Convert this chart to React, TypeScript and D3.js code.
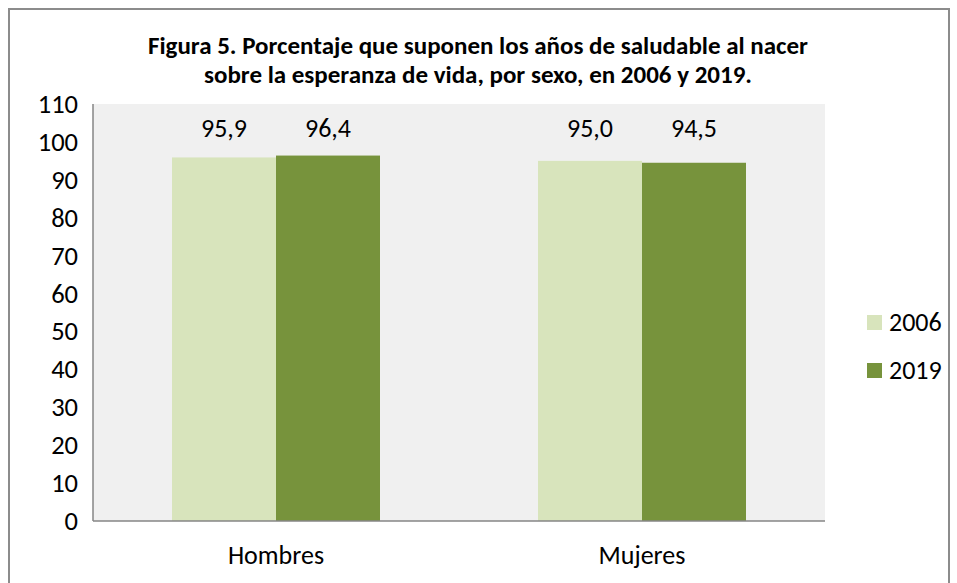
import React from "react";
import * as d3 from "d3";

const categories = ["Hombres", "Mujeres"];
const seriesNames = ["2006", "2019"];
const values2006 = [95.9, 95.0];
const values2019 = [96.4, 94.5];
const yTicks = [0, 10, 20, 30, 40, 50, 60, 70, 80, 90, 100, 110];
const titleLines = [
  "Figura 5. Porcentaje que suponen los años de saludable al nacer",
  "sobre la esperanza de vida, por sexo, en 2006 y 2019.",
];
const colors = ["#d8e4bc", "#77933c"];

const W = 957;
const H = 583;
const FONT = "Carlito, Calibri, Lato, sans-serif";

export default function App() {
  const plot = { left: 93, right: 825, top: 104, bottom: 521 };
  const x0 = d3.scaleBand<string>().domain(categories).range([plot.left, plot.right]).paddingInner(0).paddingOuter(0);
  const groupWidth = 208;
  const x1 = d3
    .scaleBand<string>()
    .domain(seriesNames)
    .range([0, groupWidth])
    .padding(0);
  const y = d3.scaleLinear().domain([0, 110]).range([plot.bottom, plot.top]);
  const series = [values2006, values2019];
  const fmt = (v: number) => v.toFixed(1).replace(".", ",");

  return (
    <svg
      width={W}
      height={H}
      style={{ position: "absolute", left: 0, top: 0, background: "#fff" }}
      fontFamily={FONT}
    >
      <rect x={9} y={9} width={940} height={600} fill="#fff" stroke="#8c8c8c" strokeWidth={2} />
      {titleLines.map((t, i) => (
        <text
          key={i}
          x={478}
          y={54 + i * 29}
          textAnchor="middle"
          fontWeight="bold"
          fontSize={25}
          fill="#000"
        >
          {t}
        </text>
      ))}
      <rect
        x={plot.left}
        y={plot.top}
        width={plot.right - plot.left}
        height={plot.bottom - plot.top}
        fill="#f0f0f0"
      />
      {yTicks.map((t) => (
        <text key={t} x={78} y={y(t) + 9} textAnchor="end" fontSize={26.5} fill="#000">
          {t}
        </text>
      ))}
      {categories.map((c, ci) => {
        const gx = (x0(c) as number) + (x0.bandwidth() - groupWidth) / 2;
        return (
          <g key={c}>
            {seriesNames.map((s, si) => {
              const v = series[si][ci];
              const bx = gx + (x1(s) as number);
              return (
                <g key={s}>
                  <rect
                    x={bx}
                    y={y(v)}
                    width={x1.bandwidth()}
                    height={plot.bottom - y(v)}
                    fill={colors[si]}
                  />
                  <text
                    x={bx + x1.bandwidth() / 2}
                    y={137}
                    textAnchor="middle"
                    fontSize={26}
                    fill="#000"
                  >
                    {fmt(v)}
                  </text>
                </g>
              );
            })}
            <text
              x={(x0(c) as number) + x0.bandwidth() / 2}
              y={564}
              textAnchor="middle"
              fontSize={26}
              fill="#000"
            >
              {c}
            </text>
          </g>
        );
      })}
      <line x1={plot.left} x2={plot.left} y1={plot.top} y2={plot.bottom} stroke="#868686" strokeWidth={1.5} />
      <line x1={plot.left} x2={plot.right} y1={plot.bottom} y2={plot.bottom} stroke="#868686" strokeWidth={1.5} />
      {seriesNames.map((s, i) => (
        <g key={s}>
          <rect x={867} y={315 + i * 48} width={15} height={15} fill={colors[i]} />
          <text x={889} y={331 + i * 48} fontSize={26} fill="#000">
            {s}
          </text>
        </g>
      ))}
    </svg>
  );
}
